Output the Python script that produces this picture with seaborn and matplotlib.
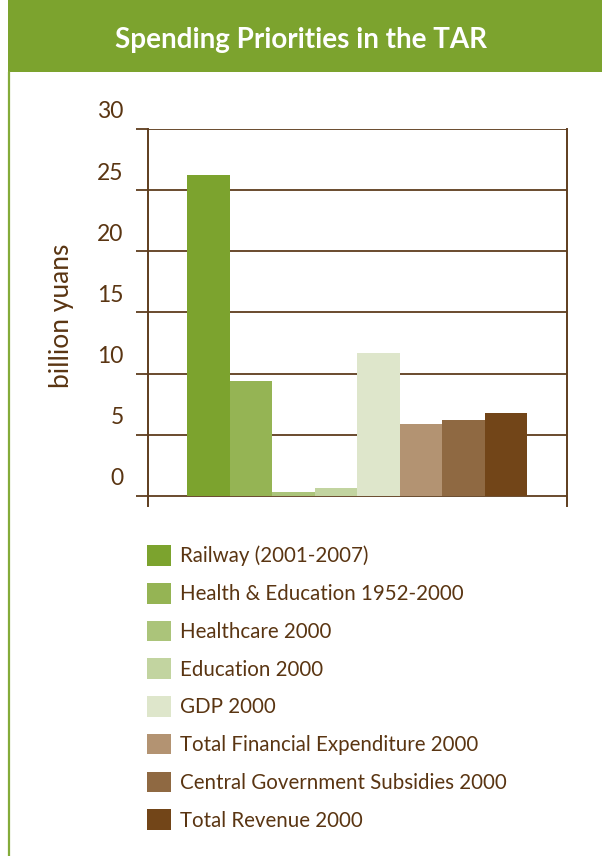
import matplotlib
matplotlib.use("Agg")
import matplotlib.pyplot as plt
import matplotlib.transforms as mtransforms
from matplotlib.patches import Rectangle
from matplotlib.lines import Line2D
import seaborn as sns
import pandas as pd

categories = [
    "Railway (2001-2007)",
    "Health & Education 1952-2000",
    "Healthcare 2000",
    "Education 2000",
    "GDP 2000",
    "Total Financial Expenditure 2000",
    "Central Government Subsidies 2000",
    "Total Revenue 2000",
]
values = [26.2, 9.4, 0.33, 0.68, 11.7, 5.9, 6.2, 6.8]
colors = ["#7ca32e", "#95b454", "#abc47a", "#c2d4a0", "#dee6cb",
          "#b39372", "#8f6942", "#724518"]
yticks = [0, 5, 10, 15, 20, 25, 30]
ytick_labels = ["0", "5", "10", "15", "20", "25", "30"]
title = "Spending Priorities in the TAR"
ylabel = "billion yuans"

sns.set_theme(style="white")
plt.rcParams["font.family"] = ["Lato", "DejaVu Sans"]

brown = "#5a3512"
grid_brown = "#5e3d1e"
green = "#7ca32e"

W, H = 602, 856
fig = plt.figure(figsize=(W / 100, H / 100), dpi=100)

# banner
fig.patches.append(Rectangle((8 / W, 1 - 71.5 / H), (W - 8) / W, 71.5 / H,
                             transform=fig.transFigure, facecolor=green,
                             edgecolor="none", zorder=0))
fig.lines.append(Line2D([9 / W, 9 / W], [0, 1 - 71.5 / H], transform=fig.transFigure,
                        color="#84ab3a", linewidth=1.6))
fig.text((112 + 490) / 2 / W, 1 - 40 / H, title, color="white", fontsize=20,
         fontweight="bold", ha="center", va="center")

left, right = 148 / W, 567 / W
bottom, top = 1 - 506 / H, 1 - 129 / H
ax = fig.add_axes([left, bottom, right - left, top - bottom])

df = pd.DataFrame({"category": categories, "value": values})
sns.barplot(data=df, x="category", y="value", hue="category",
            palette=colors, hue_order=categories, order=categories,
            width=1.0, saturation=1, legend=True, ax=ax, zorder=3,
            linewidth=0)

ax.set_ylim(-0.82, 30)
ax.set_xlim(-1.42, 8.44)
ax.set_xticks([])
ax.set_xlabel("")
ax.set_yticks(yticks)
ax.set_yticklabels(ytick_labels)
ax.grid(axis="y", color=grid_brown, linewidth=1.3, zorder=1)
ax.grid(axis="x", visible=False)
ax.set_axisbelow(True)
for s in ["top", "bottom"]:
    ax.spines[s].set_visible(False)
for s in ["left", "right"]:
    ax.spines[s].set_visible(True)
    ax.spines[s].set_color(grid_brown)
    ax.spines[s].set_linewidth(1.4)
ax.tick_params(axis="y", which="both", left=True, length=8.6, width=1.3,
               color=grid_brown, pad=9, labelsize=16.5, labelcolor=brown,
               direction="out")
offset = mtransforms.ScaledTranslation(0, 19 / 100, fig.dpi_scale_trans)
for lab in ax.get_yticklabels():
    lab.set_transform(lab.get_transform() + offset)

ax.set_ylabel("")
fig.text(61 / W, 1 - 316 / H, ylabel, rotation=90, color=brown, fontsize=19,
         ha="center", va="center")

handles, labels = ax.get_legend_handles_labels()
ax.get_legend().remove()
fs = 14.8
leg = fig.legend(handles, labels, loc="upper left",
                 bbox_to_anchor=(143 / W, 1 - 541 / H), frameon=False,
                 fontsize=fs, handlelength=1.17, handleheight=1.17,
                 labelspacing=0.8, handletextpad=0.42, borderaxespad=0,
                 borderpad=0.2)
for t in leg.get_texts():
    t.set_color(brown)

fig.savefig("out.png", dpi=100, facecolor="white")
